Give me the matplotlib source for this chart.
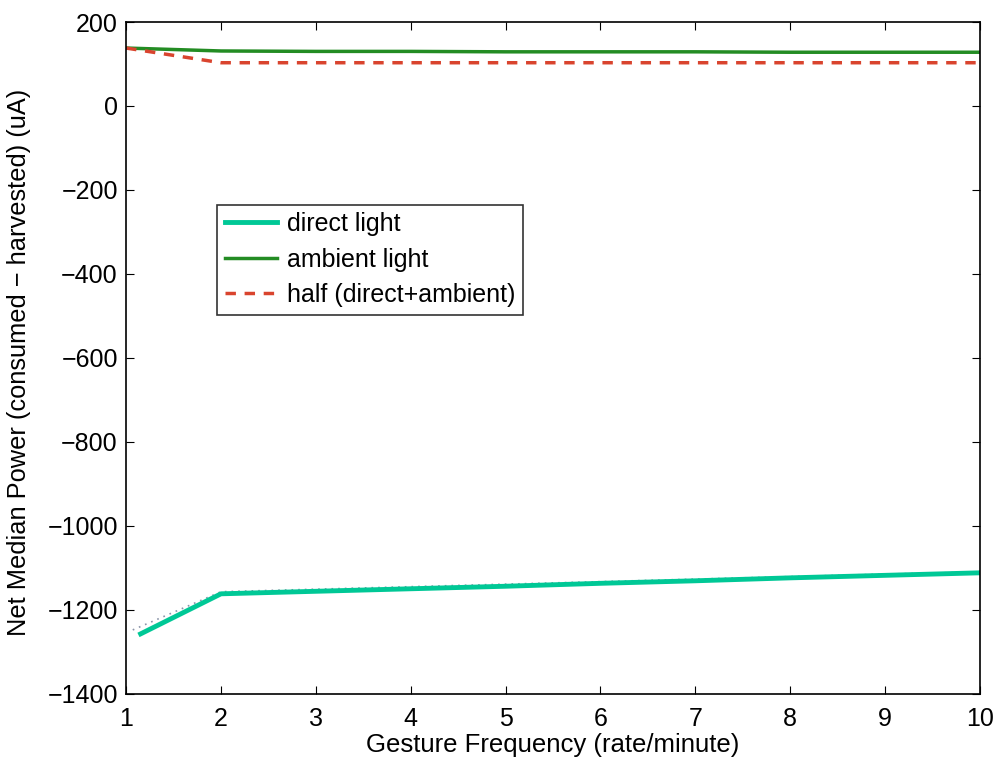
import matplotlib.pyplot as plt
from matplotlib.lines import Line2D

plt.rcParams['font.family'] = ['Liberation Sans', 'DejaVu Sans']

# gesture frequency (rate/minute)
freq = [1, 2, 3, 4, 5, 6, 7, 8, 9, 10]
freq_direct = [1.13, 2, 3, 4, 5, 6, 7, 8, 9, 10]
freq_direct_dot = [1.07, 2, 3, 4, 5, 6, 7, 8, 9, 10]

# net median power (uA)
direct = [-1260, -1162, -1156, -1150, -1144, -1137, -1131, -1124, -1118, -1112]
direct_dot = [-1248, -1157, -1151, -1145, -1139, -1133, -1127, -1121, -1115, -1110]
ambient = [138, 131, 130, 130, 129, 129, 129, 128, 128, 128]
half = [138, 103, 103, 103, 103, 103, 103, 103, 103, 103]

fig = plt.figure(figsize=(10.01, 7.59), dpi=100)
ax = fig.add_axes([0.126, 0.086, 0.853, 0.885])

ax.plot(freq_direct_dot, direct_dot, linestyle=(0, (1, 3)), color='#8a94a8', lw=1.2)
ax.plot(freq_direct, direct, color='#00c896', lw=3.5, solid_capstyle='butt')
ax.plot(freq, ambient, color='#238c23', lw=2.5)
ax.plot(freq, half, linestyle=(0, (3, 2.5)), color='#d9442e', lw=2.5)

# legend: direct light drawn as dotted line with teal overlay
h_dot = Line2D([], [], linestyle=(0, (1, 3)), color='#8a94a8', lw=1.2)
h_teal = Line2D([], [], color='#00c896', lw=3.5)
h_amb = Line2D([], [], color='#238c23', lw=2.5)
h_half = Line2D([], [], linestyle=(0, (3, 2.5)), color='#d9442e', lw=2.5)
leg = ax.legend([(h_dot, h_teal), h_amb, h_half],
                ['direct light', 'ambient light', 'half (direct+ambient)'],
                loc='upper left', bbox_to_anchor=(0.1066, 0.728), borderaxespad=0,
                fontsize=18, frameon=True, fancybox=False, edgecolor='black',
                handlelength=2.1, handletextpad=0.4, borderpad=0.3, labelspacing=0.46)
leg.get_frame().set_linewidth(1.2)

ax.set_xlim(1, 10)
ax.set_ylim(-1400, 200)
ax.set_xticks(range(1, 11))
ax.set_yticks(range(-1400, 201, 200))
ax.tick_params(direction='in', top=True, right=True, labelsize=18, length=6)
ax.tick_params(axis='x', pad=9.5)
ax.tick_params(axis='y', pad=6)
for s in ax.spines.values():
    s.set_linewidth(1.2)

ax.set_xlabel('Gesture Frequency (rate/minute)', fontsize=18.5)
ax.set_ylabel('Net Median Power (consumed \u2212 harvested) (uA)', fontsize=18.3)
ax.xaxis.set_label_coords(0.5, -0.058)
ax.yaxis.set_label_coords(-0.111, 0.4926)

fig.savefig('out.png', dpi=100)
